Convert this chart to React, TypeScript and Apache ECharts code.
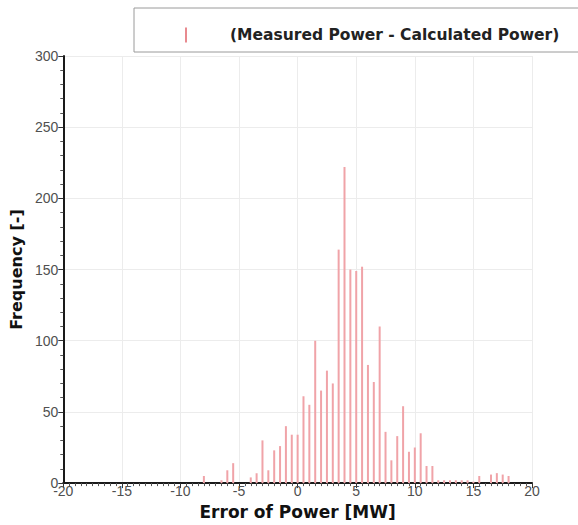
import React, { useEffect, useRef } from "react";
import * as echarts from "echarts";

const errorBins = [
  -8, -6.5, -6, -5.5, -4, -3.5, -3, -2.5, -2, -1.5, -1, -0.5, 0, 0.5, 1, 1.5, 2, 2.5, 3, 3.5,
  4, 4.5, 5, 5.5, 6, 6.5, 7, 7.5, 8, 8.5, 9, 9.5, 10, 10.5, 11, 11.5, 12, 12.5, 13, 13.5,
  14, 14.5, 15, 15.5, 16.5, 17, 17.5, 18,
];
const frequencies = [
  5, 2, 9, 14, 4, 7, 30, 9, 23, 26, 40, 34, 34, 61, 55, 100, 65, 79, 70, 164,
  222, 150, 149, 152, 83, 71, 110, 36, 16, 33, 54, 22, 25, 35, 12, 12, 2, 2, 2, 2,
  2, 2, 1, 5, 6, 7, 6, 5,
];
const seriesName = "(Measured Power - Calculated Power)";
const xTitle = "Error of Power [MW]";
const yTitle = "Frequency [-]";

export default function App() {
  const ref = useRef<HTMLDivElement>(null);
  useEffect(() => {
    if (!ref.current) return;
    const chart = echarts.init(ref.current, undefined, { renderer: "svg" });
    const font = "'Liberation Sans', Arial, sans-serif";
    const boldFont = "'DejaVu Sans', 'Liberation Sans', sans-serif";
    chart.setOption({
      animation: false,
      backgroundColor: "#ffffff",
      textStyle: { fontFamily: font },
      grid: { left: 58, right: 46, top: 56, bottom: 38 },
      graphic: [
        {
          type: "rect",
          shape: { x: 134, y: 8, width: 460, height: 44 },
          style: { fill: "#ffffff", stroke: "#9a9a9a", lineWidth: 1 },
          z: 0,
        },
      ],
      legend: {
        left: 180,
        top: 22,
        icon: "rect",
        itemWidth: 2,
        itemHeight: 15,
        z: 10,
        data: [{ name: seriesName, itemStyle: { color: "#e88a8f" } }],
        textStyle: {
          fontFamily: boldFont,
          fontWeight: "bold",
          fontSize: 15.5,
          color: "#222",
          padding: [0, 0, 0, 38],
        },
      },
      xAxis: {
        type: "value",
        min: -20,
        max: 20,
        interval: 5,
        name: xTitle,
        nameLocation: "middle",
        nameGap: 15,
        nameTextStyle: { fontWeight: "bold", fontSize: 17, color: "#111", fontFamily: boldFont },
        axisLine: { show: true, onZero: false, lineStyle: { color: "#1a1a1a", width: 2 } },
        axisTick: { show: true, length: 5, lineStyle: { color: "#333" } },
        minorTick: { show: true, splitNumber: 10, length: 3, lineStyle: { color: "#555" } },
        axisLabel: { color: "#505050", fontSize: 14, margin: 1, fontFamily: font },
        splitLine: { show: true, lineStyle: { color: "#ececec", width: 1 } },
      },
      yAxis: {
        type: "value",
        min: 0,
        max: 300,
        interval: 50,
        name: yTitle,
        nameLocation: "middle",
        nameGap: 35,
        nameTextStyle: { fontWeight: "bold", fontSize: 16, color: "#111", fontFamily: boldFont },
        axisLine: { show: true, onZero: false, lineStyle: { color: "#1a1a1a", width: 2 } },
        axisTick: { show: true, length: 5, lineStyle: { color: "#333" } },
        minorTick: { show: true, splitNumber: 5, length: 3, lineStyle: { color: "#555" } },
        axisLabel: { color: "#505050", fontSize: 14, margin: 5, fontFamily: font },
        splitLine: { show: true, lineStyle: { color: "#ececec", width: 1 } },
      },
      series: [
        {
          name: seriesName,
          type: "bar",
          barWidth: 2,
          itemStyle: { color: "#f0a3a8" },
          data: errorBins.map((x, i) => [x, frequencies[i]]),
        },
      ],
    });
    return () => chart.dispose();
  }, []);
  return (
    <div
      ref={ref}
      style={{ position: "fixed", left: 0, top: 0, width: 578, height: 525 }}
    />
  );
}
